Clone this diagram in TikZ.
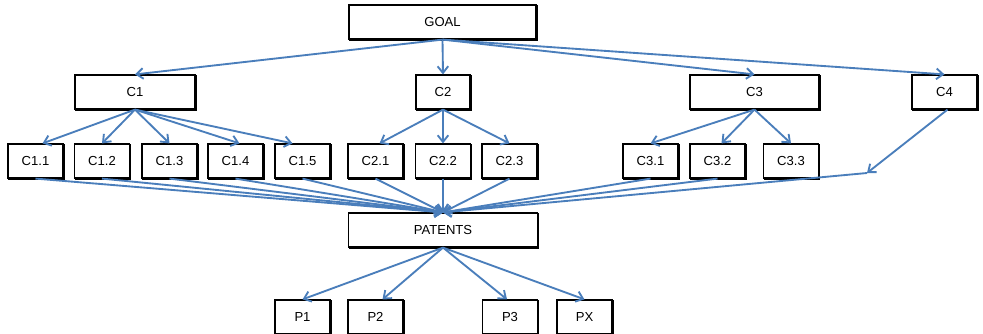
\documentclass[tikz,border=0pt]{standalone}
\usepackage{fontspec}
\setmainfont{Liberation Sans}
\usetikzlibrary{arrows.meta,shadows}
\definecolor{linkblue}{RGB}{74,126,187}

\begin{document}
\begin{tikzpicture}
% Goal tree on a pixel grid (y grows downwards)
\def\px{0.75pt}
\providecommand{\treeLineWidth}{1.4pt}
\providecommand{\treeBoxLineWidth}{0.9pt}
\tikzset{
  treebox/.style={draw=black, fill=white, line width=\treeBoxLineWidth, rectangle,
    minimum height=34*\px, inner sep=0pt, font=\fontsize{9.8}{11}\selectfont,
    copy shadow={shadow xshift=0.7pt, shadow yshift=-0.7pt}},
  smallbox/.style={treebox, minimum width=55*\px},
  link/.style={draw=linkblue, line width=\treeLineWidth, line join=round,
    -{Straight Barb[length=5pt,width=8pt]}}
}
\begin{scope}[x=\px, y=-\px]
  \useasboundingbox (0,0) rectangle (983,333);
  % Top levels
  \node[treebox, minimum width=187*\px] (goal) at (442.5,22) {GOAL};
  \node[treebox, minimum width=120*\px] (c1) at (135,92) {C1};
  \node[treebox, minimum width=54*\px] (c2) at (443,92) {C2};
  \node[treebox, minimum width=129*\px] (c3) at (754.5,92) {C3};
  \node[treebox, minimum width=65*\px] (c4) at (944.5,92) {C4};
  % Criteria
  \node[smallbox] (c11) at (35.5,161) {C1.1};
  \node[smallbox] (c12) at (102,161) {C1.2};
  \node[smallbox] (c13) at (169.5,161) {C1.3};
  \node[smallbox] (c14) at (235.5,161) {C1.4};
  \node[smallbox] (c15) at (302.5,161) {C1.5};
  \node[smallbox] (c21) at (375.5,161) {C2.1};
  \node[smallbox] (c22) at (443,161) {C2.2};
  \node[smallbox] (c23) at (509.5,161) {C2.3};
  \node[smallbox] (c31) at (650.5,161) {C3.1};
  \node[smallbox] (c32) at (717.5,161) {C3.2};
  \node[smallbox] (c33) at (791,161) {C3.3};
  % Alternatives
  \node[treebox, minimum width=189*\px] (patents) at (443,230) {PATENTS};
  \node[smallbox] (p1) at (302.5,317) {P1};
  \node[smallbox] (p2) at (375.5,317) {P2};
  \node[smallbox] (p3) at (510,317) {P3};
  \node[smallbox] (px) at (584.5,317) {PX};
  \coordinate (c4turn) at (867,173);
  % Goal to criteria
  \draw[link] (goal.south) -- (c1.north);
  \draw[link] (goal.south) -- (c2.north);
  \draw[link] (goal.south) -- (c3.north);
  \draw[link] (goal.south) -- (c4.north);
  % Criteria to subcriteria
  \draw[link] (c1.south) -- ([xshift=7*\px]c11.north);
  \draw[link] (c1.south) -- (c12.north);
  \draw[link] (c1.south) -- (c13.north);
  \draw[link] (c1.south) -- ([xshift=4*\px]c14.north);
  \draw[link] (c1.south) -- ([xshift=-10*\px]c15.north);
  \draw[link] (c2.south) -- ([xshift=4*\px]c21.north);
  \draw[link] (c2.south) -- (c22.north);
  \draw[link] (c2.south) -- (c23.north);
  \draw[link] (c3.south) -- (c31.north);
  \draw[link] (c3.south) -- ([xshift=4*\px]c32.north);
  \draw[link] (c3.south) -- (c33.north);
  \draw[link] ([xshift=3*\px]c4.south) -- (c4turn);
  % Subcriteria to patents
  \draw[link] (c11.south) -- (patents.north);
  \draw[link] (c12.south) -- (patents.north);
  \draw[link] (c13.south) -- (patents.north);
  \draw[link] (c14.south) -- (patents.north);
  \draw[link] (c15.south) -- (patents.north);
  \draw[link] (c21.south) -- (patents.north);
  \draw[link] (c22.south) -- (patents.north);
  \draw[link] (c23.south) -- (patents.north);
  \draw[link] (c31.south) -- (patents.north);
  \draw[link] (c32.south) -- (patents.north);
  \draw[link] (c4turn) -- (patents.north);
  % Patents to alternatives
  \draw[link] (patents.south) -- (p1.north);
  \draw[link] (patents.south) -- ([xshift=7*\px]p2.north);
  \draw[link] (patents.south) -- ([xshift=-3*\px]p3.north);
  \draw[link] (patents.south) -- (px.north);
\end{scope}
\end{tikzpicture}
\end{document}
